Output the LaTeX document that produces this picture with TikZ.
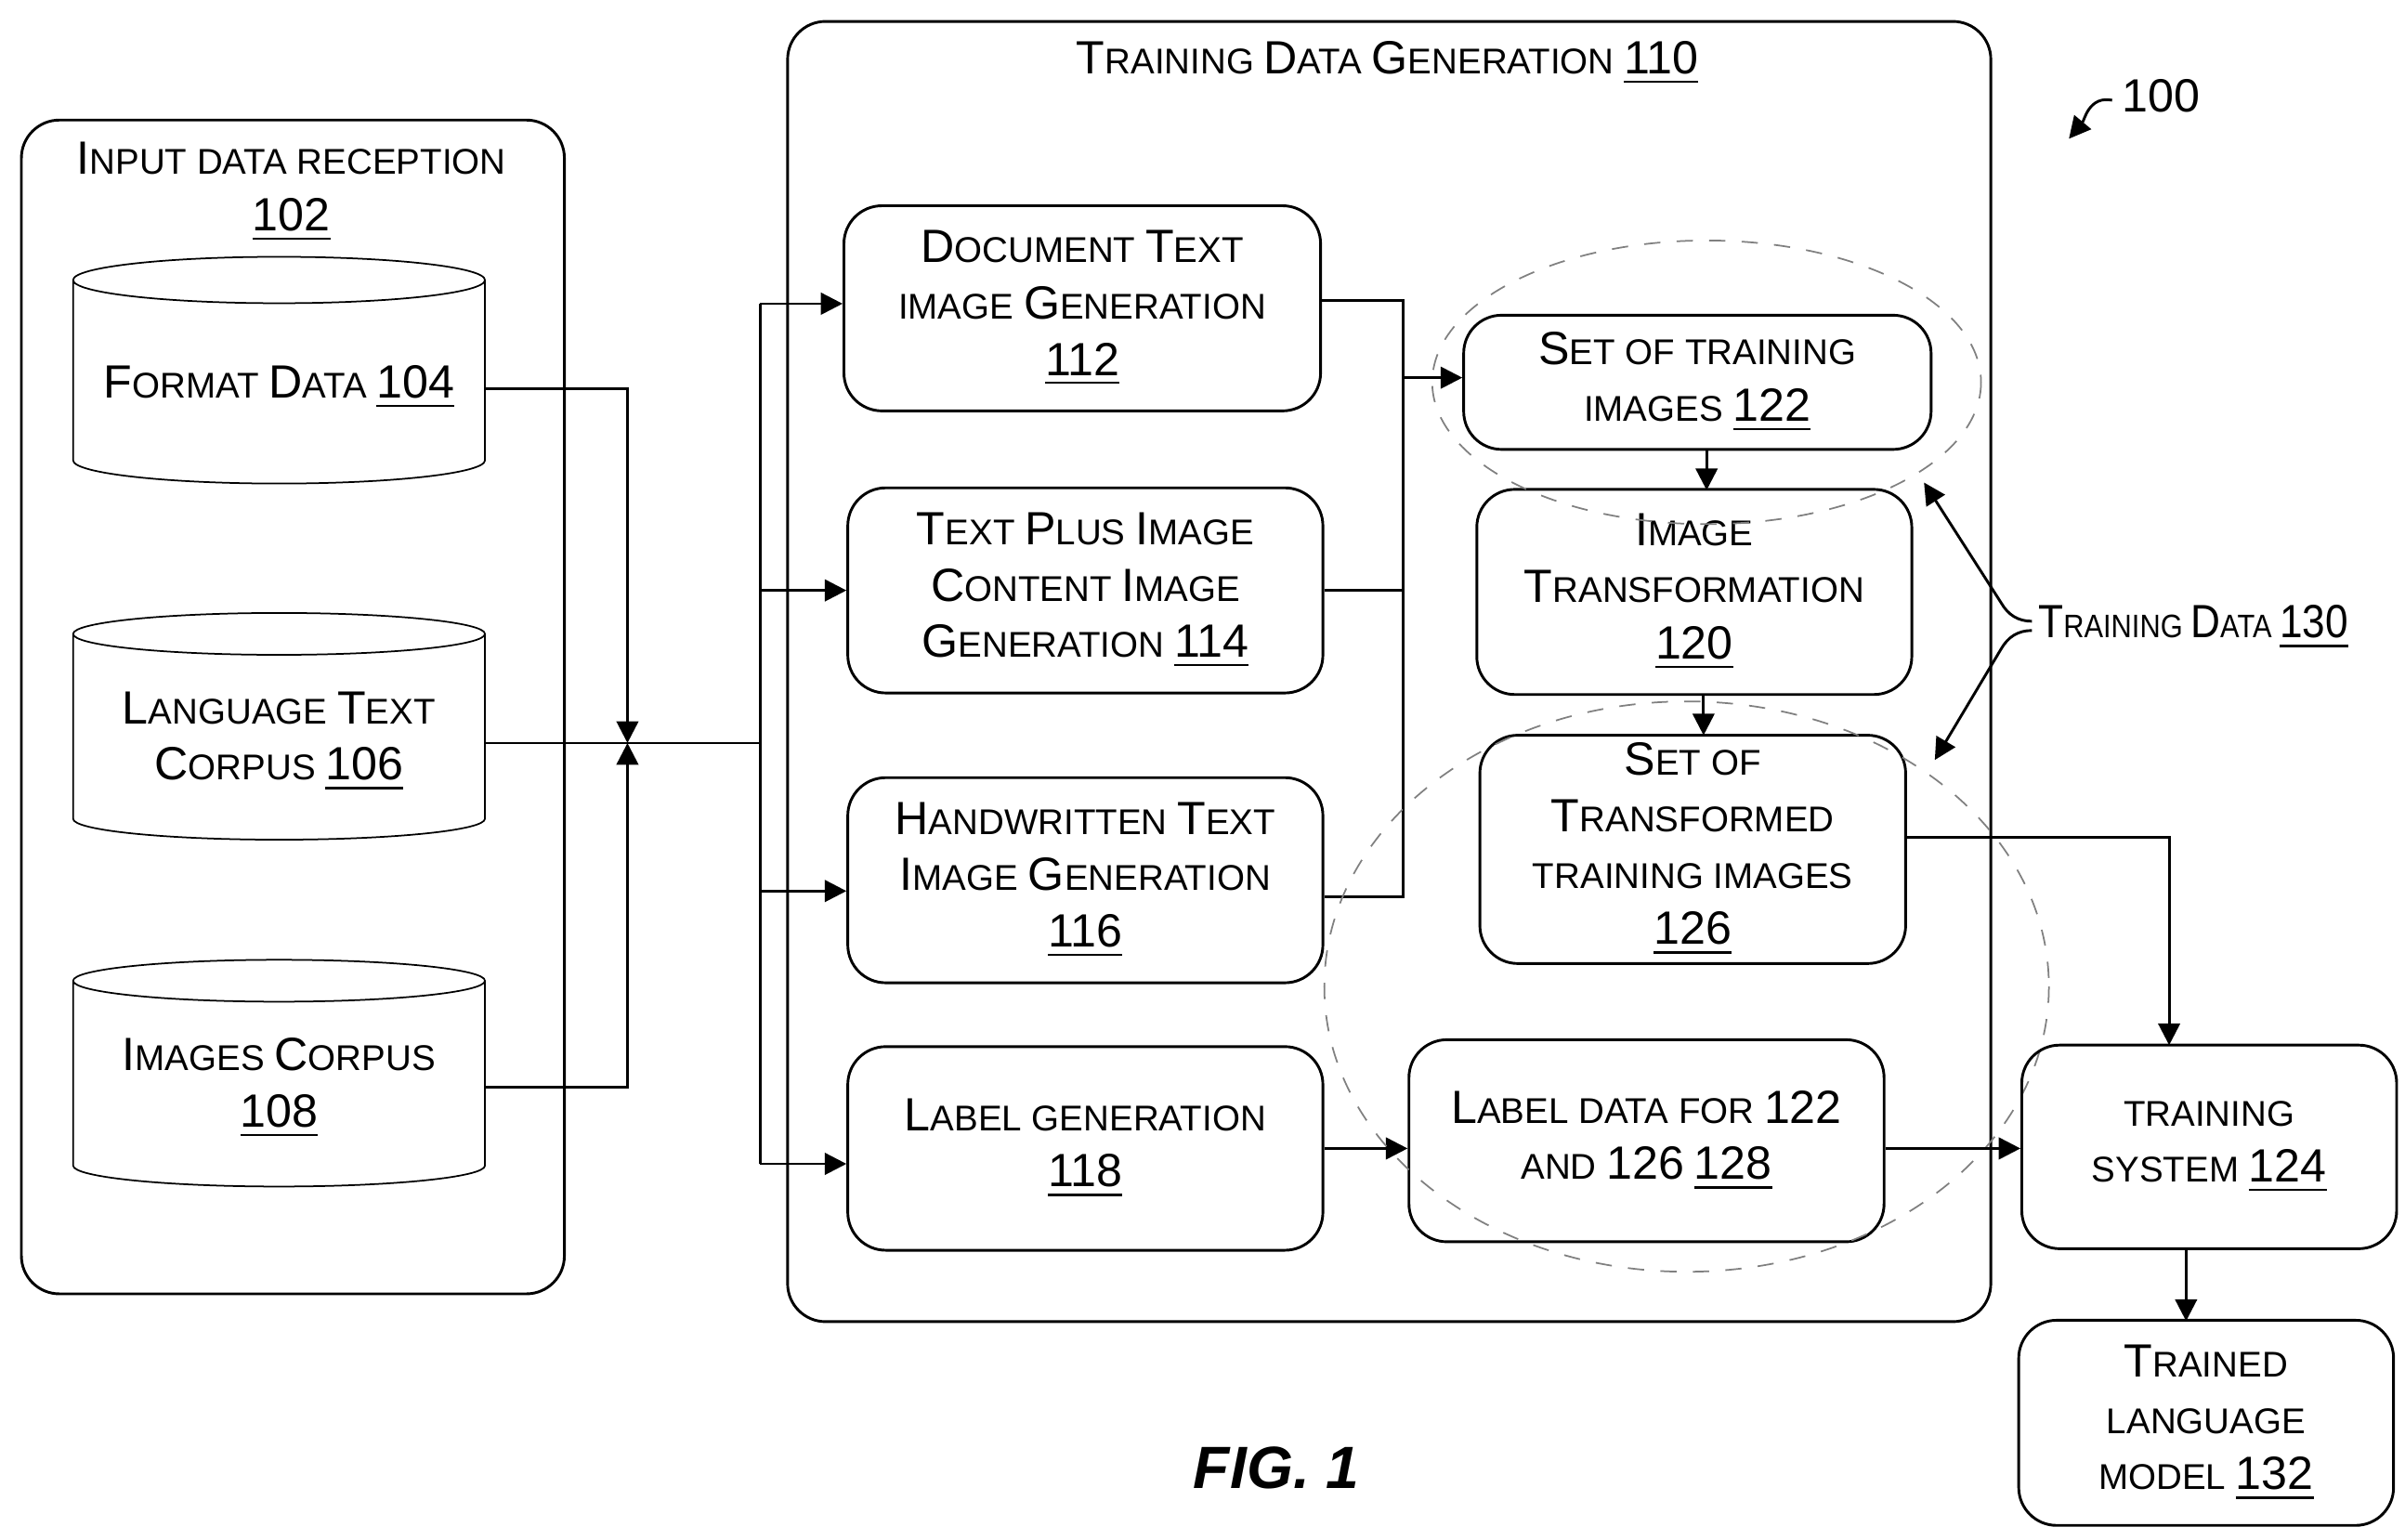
\documentclass[tikz,border=0pt]{standalone}
\usepackage{fontspec}
\setmainfont{Liberation Sans}
\usetikzlibrary{shapes.geometric,arrows.meta}
\newcommand\K[1]{{\fontsize{8.6}{9}\selectfont #1}}
\newcommand\N[1]{\K{\underline{#1}}}
\tikzset{box/.style={draw,rounded corners=7pt,line width=0.5pt,align=center,inner sep=1pt,font=\fontsize{6.6}{10.4}\selectfont},
    drum/.style={draw,cylinder,shape border rotate=90,aspect=0.12,line width=0.3pt,align=center,
      minimum width=2.67cm,minimum height=1.47cm,font=\fontsize{6.6}{10.4}\selectfont},
    link/.style={line width=0.5pt},
    arr/.style={line width=0.5pt,-{Triangle[length=4pt,width=4pt]}},
    halo/.style={draw=gray,dashed,line width=0.3pt}
}
\begin{document}
\begin{tikzpicture}[x=0.01cm,y=-0.01cm]
\useasboundingbox (0,0) rectangle (1560,999);

% input side
\node (inp) [box,minimum width=3.52cm,minimum height=7.61cm,anchor=north west] at (13,77) {};
\node [box,draw=none,anchor=north] at (189,88) {\K{I}NPUT DATA RECEPTION\\\N{102}};
\node (d104) [drum] at (181,251) {\K{F}ORMAT \K{D}ATA \N{104}};
\node (d106) [drum] at (181,481) {\K{L}ANGUAGE \K{T}EXT\\\K{C}ORPUS \N{106}};
\node (d108) [drum] at (181,706) {\K{I}MAGES \K{C}ORPUS\\\N{108}};

\coordinate (j) at (407,482);
\coordinate (bus) at (493,482);
\draw [arr] (315,252) -| (j);
\draw [arr] (315,705) -| (j);
\draw [link] (315,482) -- (bus);
\draw [link] (493,197) -- (493,755);

% training data generation
\node (gen) [box,minimum width=7.8cm,minimum height=8.43cm,anchor=north west] at (510,13) {};
\node [box,draw=none] at (900,41) {\K{T}RAINING \K{D}ATA \K{G}ENERATION \N{110}};

\node (n112) [box,minimum width=3.09cm,minimum height=1.33cm] at (702,200) {\K{D}OCUMENT \K{T}EXT\\IMAGE \K{G}ENERATION\\\N{112}};
\node (n114) [box,minimum width=3.08cm,minimum height=1.33cm] at (704,383) {\K{T}EXT \K{P}LUS \K{I}MAGE\\\K{C}ONTENT \K{I}MAGE\\\K{G}ENERATION \N{114}};
\node (n116) [box,minimum width=3.08cm,minimum height=1.33cm] at (704,571) {\K{H}ANDWRITTEN \K{T}EXT\\\K{I}MAGE \K{G}ENERATION\\\N{116}};
\node (n118) [box,minimum width=3.08cm,minimum height=1.32cm] at (704,745) {\K{L}ABEL GENERATION\\\N{118}};

\draw [arr] (493,197) -- (n112.west |- 0,197);
\draw [arr] (493,383) -- (n114.west);
\draw [arr] (493,578) -- (n116.west |- 0,578);
\draw [arr] (493,755) -- (n118.west |- 0,755);

\node (n122) [box,minimum width=3.03cm,minimum height=0.87cm] at (1101,248) {\K{S}ET OF TRAINING\\IMAGES \N{122}};
\node (n120) [box,minimum width=2.82cm,minimum height=1.33cm] at (1099,384) {\K{I}MAGE\\\K{T}RANSFORMATION\\\N{120}};
\node (n126) [box,minimum width=2.76cm,minimum height=1.48cm] at (1098,551) {\K{S}ET OF\\\K{T}RANSFORMED\\TRAINING IMAGES\\\N{126}};
\node (n128) [box,minimum width=3.08cm,minimum height=1.31cm] at (1068,740) {\K{L}ABEL DATA FOR \K{122}\\AND \K{126} \N{128}};

\draw [link] (n112.east |- 0,195) -- (910,195) -- (910,582) -- (n116.east |- 0,582);
\draw [link] (n114.east) -- (910,383);
\draw [arr] (910,245) -- (n122.west |- 0,245);
\draw [arr] (1107,292) -- (1107,318);
\draw [arr] (1105,451) -- (1105,477);
\draw [arr] (n118.east) -- (n128.west |- n118.east);

\draw [halo] (1107,248) ellipse [x radius=178,y radius=92];
\draw [halo] (1094,640) ellipse [x radius=235,y radius=185];

% training
\node (n124) [box,minimum width=2.43cm,minimum height=1.32cm] at (1433,744) {TRAINING\\SYSTEM \N{124}};
\node (n132) [box,minimum width=2.43cm,minimum height=1.33cm] at (1431,923) {\K{T}RAINED\\LANGUAGE\\MODEL \N{132}};
\draw [arr] (n128.east |- 0,745) -- (n124.west |- 0,745);
\draw [arr] (n126.east |- 0,543) -| (1407,678);
\draw [arr] (1418,810) -- (1418,857);

\node (td) [anchor=west,inner sep=1pt,font=\fontsize{6}{10}\selectfont] at (1318,407) {\scalebox{0.88}[1]{\K{T}RAINING \K{D}ATA \N{130}}};
\draw [arr] (td.west) ++(0,-4) to[out=180,in=-60] ++(-20,-12) -- (1248,313);
\draw [arr] (td.west) ++(0,2) to[out=180,in=60] ++(-20,12) -- (1255,493);

\node (lbl) [font=\fontsize{8.6}{9}\selectfont] at (1402,62) {100};
\draw [arr] (1370,65) .. controls (1355,62) and (1352,78) .. (1342,90);

\node (fig) [font=\bfseries\itshape\fontsize{11}{12}\selectfont] at (828,952) {FIG. 1};
\end{tikzpicture}
\end{document}
